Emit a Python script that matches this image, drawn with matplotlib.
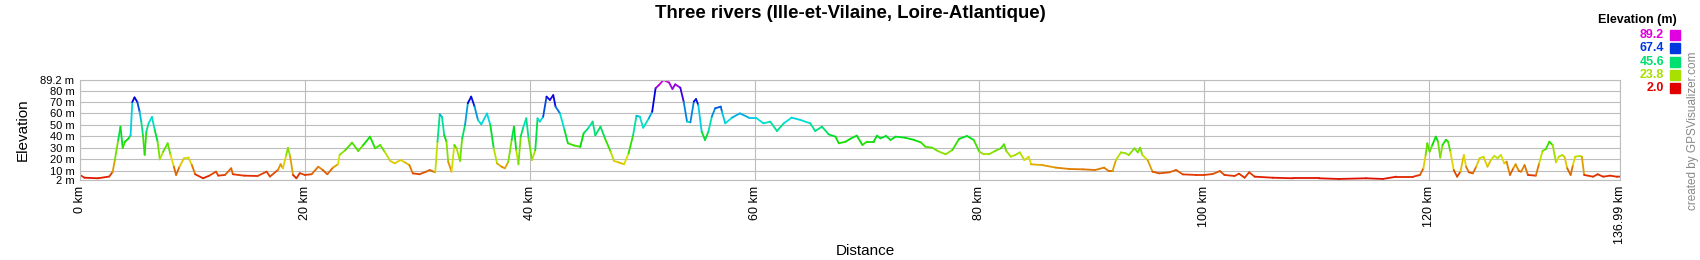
import colorsys
import numpy as np
import matplotlib
matplotlib.use("Agg")
import matplotlib.pyplot as plt
from matplotlib.collections import LineCollection
from matplotlib.patches import Rectangle

plt.rcParams['font.family'] = ['Liberation Sans', 'DejaVu Sans']

# distance (km) / elevation (m)
dist = [0.0, 0.4, 1.6, 2.6, 2.9, 3.1, 3.4, 3.6, 3.8, 4.0, 4.3, 4.5, 4.65, 4.85, 5.1, 5.3, 5.45, 5.6, 5.75, 5.9,
        6.1, 6.4, 6.65, 6.9, 7.1, 7.4, 7.8, 8.05, 8.35, 8.55, 8.85, 9.25, 9.65, 9.95, 10.25, 10.95, 11.5, 12.1,
        12.3, 12.9, 13.45, 13.6, 14.6, 15.8, 16.6, 16.9, 17.6, 17.85, 18.05, 18.35, 18.5, 18.7, 18.95, 19.25,
        19.55, 20.0, 20.6, 21.2, 21.6, 22.0, 22.5, 22.95,
        23.1, 23.6, 24.2, 24.75, 25.2, 25.8, 26.25, 26.7, 27.1, 27.6, 28.0, 28.5, 28.9, 29.3, 29.6, 30.2, 30.8,
        31.1, 31.6, 31.8, 32.0, 32.2, 32.4, 32.6, 32.75, 33.05, 33.3, 33.5, 33.8, 34.0, 34.25, 34.5, 34.8, 35.1,
        35.4, 35.7, 36.2, 36.5, 36.8, 37.1, 37.5, 37.8, 38.1, 38.4, 38.6, 38.8, 39.0, 39.2, 39.4, 39.7, 39.9,
        40.2, 40.5, 40.7, 40.9, 41.2, 41.5, 41.8, 42.1, 42.3, 42.7, 43.1, 43.4, 44.0, 44.5, 44.8, 45.2, 45.6,
        45.84, 46.3, 46.7, 47.2, 47.5, 47.9, 48.4, 48.8, 49.2, 49.5, 49.8, 50.1, 50.6, 50.9, 51.2, 51.5, 51.9,
        52.4, 52.7, 52.95, 53.4, 53.7, 54.0, 54.3, 54.6, 54.8, 55.0, 55.3, 55.6, 55.9, 56.2, 56.5, 57.0, 57.1,
        57.4, 58.0, 58.7, 59.5, 60.1, 60.8, 61.4, 62.0, 62.6, 63.3, 64.1, 64.96, 65.4, 66.0, 66.6, 67.2, 67.5,
        68.1, 68.5, 69.1, 69.6, 70.0, 70.6, 70.9, 71.2, 71.7, 72.1, 72.55, 73.4, 74.2, 74.8, 75.2, 75.8, 76.3,
        77.0, 77.6, 78.2, 78.9, 79.5, 80.0, 80.4, 80.85, 81.4, 81.9, 82.2, 82.4, 82.8, 83.2, 83.6, 84.0, 84.4,
        84.6, 85.6, 86.8, 88.0, 89.2, 90.3, 91.1, 91.5, 91.85, 92.15, 92.6, 93.0, 93.3, 93.8, 94.1, 94.3, 94.5,
        94.97, 95.4, 96.0, 96.9, 97.5, 98.1, 99.3, 100.0, 100.75, 101.4, 101.8, 102.7, 103.1, 103.6, 104.0,
        104.5, 106.1, 107.9, 110.2, 112.0, 114.4, 115.9, 117.1, 118.6, 119.2, 119.5, 119.7, 119.85, 120.05,
        120.3, 120.6, 120.8, 121.0, 121.2, 121.5, 121.7, 121.9, 122.2, 122.5, 122.8, 123.1, 123.3, 123.55,
        123.9, 124.2, 124.5, 124.85, 125.2, 125.5, 125.8, 126.1, 126.4, 126.7, 126.9, 127.2, 127.5, 127.7,
        128.0, 128.2, 128.5, 128.8, 129.5, 129.8, 130.1, 130.4, 130.7, 131.0, 131.3, 131.55, 131.85, 132.05,
        132.3, 132.6, 132.8, 133.0, 133.4, 133.6, 133.8, 134.6, 135.0, 135.5, 136.1, 136.7, 136.99]
elev = [6.4, 4.0, 3.5, 5.0, 9.0, 19.4, 37.0, 48.5, 30.0, 35.4, 38.0, 41.0, 70.0, 74.0, 70.0, 61.6, 53.0, 41.0,
        24.0, 44.0, 51.4, 57.0, 45.6, 35.4, 20.0, 26.7, 34.0, 24.0, 13.6, 6.4, 13.6, 21.0, 21.5, 15.0, 7.0, 3.5,
        5.8, 9.3, 5.8, 6.4, 12.2, 7.0, 5.8, 5.5, 9.3, 5.0, 10.7, 15.7, 12.2, 24.0, 30.0, 22.3, 6.4, 3.5, 8.0,
        6.4, 7.0, 13.6, 10.7, 7.0, 12.8, 15.7,
        24.0, 28.0, 34.6, 27.3, 32.5, 39.8, 29.6, 32.5, 26.7, 18.6, 16.5, 19.4, 17.4, 15.0, 7.8, 7.0, 9.3,
        10.7, 8.7, 35.4, 59.3, 57.0, 41.0, 35.4, 18.0, 9.3, 32.5, 29.6, 18.6, 38.3, 50.0, 69.0, 74.7, 66.0,
        54.3, 50.5, 60.0, 50.0, 29.6, 16.5, 13.6, 12.2, 18.0, 37.0, 48.5, 28.0, 15.7, 39.8, 47.0, 55.8, 38.3,
        19.4, 28.0, 55.8, 52.9, 57.2, 74.7, 71.8, 76.0, 66.0, 60.0, 45.6, 34.0, 32.0, 31.0, 42.7, 47.0, 52.9,
        41.0, 48.5, 38.3, 26.7, 18.6, 17.4, 15.7, 25.3, 41.0, 58.0, 57.2, 47.6, 55.8, 61.6, 82.0, 84.8, 89.2,
        87.0, 81.4, 85.4, 82.5, 70.3, 52.9, 52.3, 70.3, 72.6, 67.4, 44.2, 36.9, 44.2, 57.2, 64.5, 66.0, 61.6,
        51.4, 56.4, 60.1, 56.4, 56.4, 51.4, 52.9, 44.7, 51.4, 56.4, 54.3, 51.4, 44.7, 48.5, 41.8, 39.8, 34.0,
        35.4, 37.8, 40.7, 32.5, 35.4, 35.4, 40.7, 38.3, 40.4, 36.9, 39.8, 38.9, 36.9, 34.8, 31.0, 30.2, 27.3,
        24.4, 28.2, 37.8, 40.4, 36.9, 26.7, 24.4, 24.4, 27.3, 29.6, 33.1, 27.3, 22.3, 23.8, 26.1, 19.4, 22.3,
        15.7, 15.0, 12.8, 11.6, 11.3, 10.7, 12.8, 9.8, 9.8, 19.4, 26.1, 25.3, 23.8, 29.6, 26.1, 30.2, 23.8,
        19.4, 9.3, 7.8, 8.7, 10.7, 6.9, 6.4, 6.4, 7.2, 9.8, 6.4, 5.5, 7.5, 4.0, 8.7,
        4.9, 4.0, 3.5, 3.5, 2.9, 3.5, 2.9, 4.9, 4.9, 6.4, 12.2, 23.8, 34.0, 26.7,
        32.5, 39.8, 35.4, 21.5, 32.5, 37.0, 35.4, 26.7, 10.7, 4.9, 9.3, 23.8, 13.6, 8.7,
        7.8, 13.6, 21.0, 22.3, 13.6, 19.4, 23.0, 21.0, 23.8, 16.5, 18.0, 6.4, 12.2, 15.7,
        9.8, 9.3, 15.0, 6.4, 5.8, 16.5, 27.3, 29.0, 35.4, 32.5, 17.4, 22.3, 23.8, 22.3,
        12.2, 6.4, 15.0, 22.3, 23.0, 22.3, 6.4, 4.9, 7.0, 4.9, 5.8, 4.9, 5.0]

emin, emax = 2.0, 89.2
legend_vals = [89.2, 67.4, 45.6, 23.8, 2.0]
ytick_vals = [2, 10, 20, 30, 40, 50, 60, 70, 80, 89.2]
ytick_labels = ["2 m", "10 m", "20 m", "30 m", "40 m", "50 m", "60 m", "70 m", "80 m", "89.2 m"]
xtick_vals = [0, 20, 40, 60, 80, 100, 120, 136.99]
xtick_labels = ["0 km", "20 km", "40 km", "60 km", "80 km", "100 km", "120 km", "136.99 km"]


def elev_color(e):
    h = (e - emin) / (emax - emin) * 300.0 / 360.0
    return colorsys.hsv_to_rgb(h, 1.0, 0.88)


fig = plt.figure(figsize=(17, 2.6), dpi=100)
ax = fig.add_axes([80 / 1700, 1 - 180 / 260, 1540 / 1700, 100 / 260])

pts = np.column_stack([dist, elev])
segs = np.stack([pts[:-1], pts[1:]], axis=1)
seg_e = (np.array(elev[:-1]) + np.array(elev[1:])) / 2
lc = LineCollection(segs, colors=[elev_color(e) for e in seg_e], linewidths=1.3, capstyle='round')
ax.add_collection(lc)

ax.set_xlim(0, 136.99)
ax.set_ylim(emin, emax)
ax.set_yticks(ytick_vals)
ax.set_yticklabels(ytick_labels, fontsize=8)
ax.set_xticks(xtick_vals)
ax.set_xticklabels(xtick_labels, fontsize=9, rotation=90)
ax.tick_params(length=0, pad=4)
ax.grid(True, color='#bdbdbd', linewidth=0.8)
for s in ax.spines.values():
    s.set_color('#bdbdbd')
    s.set_linewidth(0.8)

ax.set_ylabel("Elevation", fontsize=11, labelpad=8)
fig.text(865 / 1700, 1 - 251 / 260, "Distance", ha='center', va='center', fontsize=11)
fig.text(850 / 1700, 1 - 14 / 260, "Three rivers (Ille-et-Vilaine, Loire-Atlantique)",
         ha='center', va='center', fontsize=13.4, fontweight='bold')

# legend
fig.text(1677 / 1700, 1 - 20 / 260, "Elevation (m)", ha='right', va='center',
         fontsize=9, fontweight='bold')
for i, v in enumerate(legend_vals):
    y = 35 + i * 13.3
    fig.text(1664 / 1700, 1 - y / 260, "%.1f" % v, ha='right', va='center',
             fontsize=9, fontweight='bold', color=elev_color(v))
    fig.patches.append(Rectangle((1670 / 1700, 1 - (y + 5) / 260), 10 / 1700, 10 / 260,
                                 transform=fig.transFigure, color=elev_color(v)))

fig.text(1693 / 1700, 1 - 131 / 260, "created by GPSVisualizer.com", rotation=90,
         ha='center', va='center', fontsize=8.5, color='#888888')

fig.savefig("out.png", dpi=100)
